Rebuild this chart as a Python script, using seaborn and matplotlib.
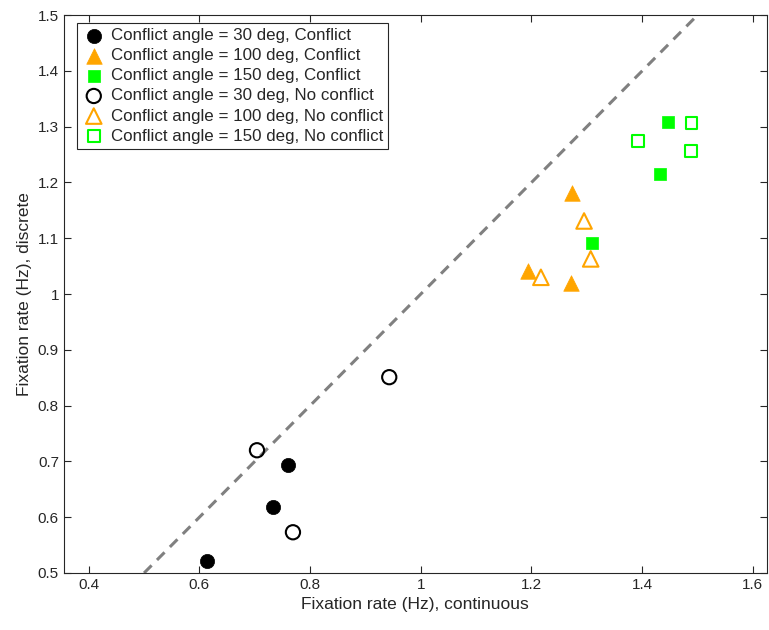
import matplotlib
matplotlib.use("Agg")
import matplotlib.pyplot as plt
import seaborn as sns
import pandas as pd

sns.set_style("white")
plt.rcParams['font.family'] = ['Liberation Sans', 'DejaVu Sans']

labels = [
    "Conflict angle = 30 deg, Conflict",
    "Conflict angle = 100 deg, Conflict",
    "Conflict angle = 150 deg, Conflict",
    "Conflict angle = 30 deg, No conflict",
    "Conflict angle = 100 deg, No conflict",
    "Conflict angle = 150 deg, No conflict",
]
x30c = [0.614, 0.733, 0.760]
y30c = [0.522, 0.619, 0.693]
x100c = [1.274, 1.194, 1.272]
y100c = [1.181, 1.042, 1.019]
x150c = [1.447, 1.433, 1.310]
y150c = [1.308, 1.216, 1.092]
x30n = [0.704, 0.769, 0.943]
y30n = [0.720, 0.573, 0.851]
x100n = [1.295, 1.307, 1.217]
y100n = [1.131, 1.063, 1.030]
x150n = [1.393, 1.489, 1.488]
y150n = [1.275, 1.306, 1.256]

xs = [x30c, x100c, x150c, x30n, x100n, x150n]
ys = [y30c, y100c, y150c, y30n, y100n, y150n]
colors = ["black", "#FFA500", "#00FF00", "black", "#FFA500", "#00FF00"]
markers = ["o", "^", "s", "o", "^", "s"]
filled = [True, True, True, False, False, False]
sizes = [105, 125, 72, 105, 125, 72]

fig = plt.figure(figsize=(7.69, 6.3), dpi=100)
ax = fig.add_axes([0.083, 0.0905, 0.914, 0.8855])

for lab, x, y, c, m, f, s in zip(labels, xs, ys, colors, markers, filled, sizes):
    df = pd.DataFrame({"x": x, "y": y})
    if f:
        sns.scatterplot(data=df, x="x", y="y", ax=ax, marker=m, s=s,
                        color=c, edgecolor=c, linewidth=0.5, label=lab)
    else:
        sns.scatterplot(data=df, x="x", y="y", ax=ax, marker=m, s=s,
                        facecolor="none", edgecolor=c, linewidth=1.5, label=lab)

diag = pd.DataFrame({"x": [0.5, 1.5], "y": [0.5, 1.5]})
sns.lineplot(data=diag, x="x", y="y", ax=ax, color="#808080", linewidth=2.2,
             linestyle=(0, (3.5, 2.5)), legend=False, zorder=0)

ax.set_xlim(0.355, 1.625)
ax.set_ylim(0.5, 1.5)
ax.set_xticks([0.4, 0.6, 0.8, 1.0, 1.2, 1.4, 1.6])
ax.set_xticklabels(["0.4", "0.6", "0.8", "1", "1.2", "1.4", "1.6"])
ax.set_yticks([0.5, 0.6, 0.7, 0.8, 0.9, 1.0, 1.1, 1.2, 1.3, 1.4, 1.5])
ax.set_yticklabels(["0.5", "0.6", "0.7", "0.8", "0.9", "1", "1.1", "1.2", "1.3", "1.4", "1.5"])
ax.tick_params(direction="in", length=5, width=0.8, colors="#262626",
               labelsize=11, top=True, right=True, bottom=True, left=True)
for sp in ax.spines.values():
    sp.set_color("#262626")
    sp.set_linewidth(0.8)
ax.set_xlabel("Fixation rate (Hz), continuous", fontsize=12.5, color="#262626")
ax.set_ylabel("Fixation rate (Hz), discrete", fontsize=12.5, color="#262626")

leg = ax.legend(loc="upper left", bbox_to_anchor=(0.0185, 0.9857),
                fontsize=12.2, frameon=True, fancybox=False,
                edgecolor="#262626", framealpha=1, borderpad=0.3,
                handletextpad=0.3, labelspacing=0.3, borderaxespad=0,
                handlelength=1.4)
leg.get_frame().set_linewidth(0.8)

fig.savefig("out.png", dpi=100)
